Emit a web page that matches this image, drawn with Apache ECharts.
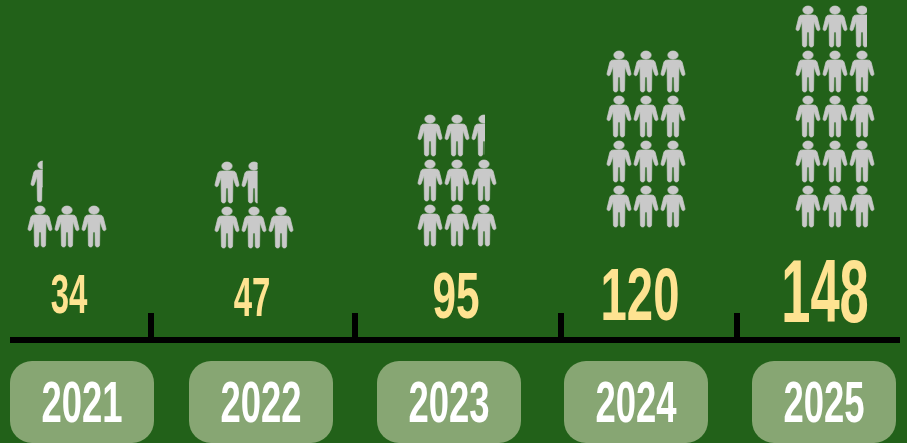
<!DOCTYPE html>
<html>
<head>
<meta charset="utf-8">
<style>
  html, body { margin: 0; padding: 0; background: #226119; }
  #chart { width: 907px; height: 443px; }
</style>
<script src="https://cdn.jsdelivr.net/npm/echarts@6/dist/echarts.min.js"></script>
</head>
<body>
<div id="chart"></div>
<script>
// ---- data ----
var years = ["2021", "2022", "2023", "2024", "2025"];
var values = [34, 47, 95, 120, 148];
// icons actually drawn per year (2023 shows 8.5, not 9.5, in the original)
var iconCounts = [3.4, 4.7, 8.5, 12, 14.8];
var iconsPerRow = 3;

// ---- layout (pixels, the original spacing is not even) ----
var iconCenterX = [67, 254, 457, 646, 835];
var iconBottomY = [247, 248, 246, 227, 227];
var partialShiftX = [3, 0, 0, 0, 0];
var numberX = [69, 252, 456, 640, 825];
var numberY = [298, 300.5, 300.5, 299, 297];
var numberSize = [55, 55, 65, 75, 89];
var numberScale = [0.6, 0.6, 0.65, 0.63, 0.59];
var pillX = [10, 189, 377, 564, 752];
var tickValues = [151, 355, 561, 737];

var AXIS_Y = 340;
var COL_GAP = 27, ROW_GAP = 45;
var ICON_W = 24, ICON_H = 41;
var FONT = '"Liberation Sans Narrow", "Liberation Sans", sans-serif';

var personPath =
  "M12 0C15 0 17.2 1.8 17.2 4.1C17.2 6.4 15 8.2 12 8.2C9 8.2 6.8 6.4 6.8 4.1C6.8 1.8 9 0 12 0Z" +
  "M7 9L17 9C20 9 20.8 10 21.4 12L24 22.5C24.4 24.8 21.5 25.5 20.8 23.6L18 15.5L17.6 39" +
  "C17.4 41.7 13.4 41.7 13.2 39L13 26L11 26L10.8 39C10.6 41.7 6.6 41.7 6.4 39L6 15.5" +
  "L3.2 23.6C2.5 25.5 -0.4 24.8 0 22.5L2.6 12C3.2 10 4 9 7 9Z";

var chart = echarts.init(document.getElementById("chart"), null, { renderer: "canvas" });

function renderIcons(params, api) {
  var i = api.value(0);
  var icons = iconCounts[i];
  var left = api.coord([iconCenterX[i], 0])[0] - COL_GAP - ICON_W / 2;
  var children = [];
  for (var n = 0; n < Math.ceil(icons); n++) {
    var col = n % iconsPerRow;
    var row = Math.floor(n / iconsPerRow);
    var part = Math.min(icons - n, 1);
    var x = left + col * COL_GAP + (part < 1 ? partialShiftX[i] : 0);
    var y = iconBottomY[i] - ICON_H - row * ROW_GAP;
    var item = {
      type: "path",
      shape: { pathData: personPath, x: x, y: y, width: ICON_W, height: ICON_H, layout: "cover" },
      style: { fill: "#c9c9c9", stroke: "#c9c9c9", lineWidth: 0.7 }
    };
    if (part < 1) {
      // cut the last icon from the left
      item.clipPath = {
        type: "rect",
        shape: { x: x - 1, y: y - 1, width: 6.5 + 13 * part + 1, height: ICON_H + 2 }
      };
    }
    children.push(item);
  }
  return { type: "group", children: children };
}

function renderNumber(params, api) {
  var i = api.value(0);
  return {
    type: "text",
    x: numberX[i],
    y: numberY[i],
    scaleX: numberScale[i],
    style: {
      text: String(api.value(1)),
      font: "bold " + numberSize[i] + "px " + FONT,
      fill: "#fee391",
      textAlign: "center",
      textVerticalAlign: "middle"
    }
  };
}

function renderPill(params, api) {
  var i = api.value(0);
  return {
    type: "group",
    children: [
      {
        type: "rect",
        shape: { x: pillX[i], y: 361, width: 144, height: 82, r: 22 },
        style: { fill: "#87a673" }
      },
      {
        type: "text",
        x: pillX[i] + 72,
        y: 406,
        scaleX: 0.64,
        style: {
          text: years[i],
          font: "bold 57px " + FONT,
          fill: "#ffffff",
          textAlign: "center",
          textVerticalAlign: "middle"
        }
      }
    ]
  };
}

var rows = years.map(function (y, i) { return [i, values[i]]; });

chart.setOption({
  backgroundColor: "#226119",
  animation: false,
  grid: { left: 10, right: 7, top: 0, bottom: 443 - AXIS_Y },
  xAxis: {
    type: "value",
    min: 10,
    max: 900,
    splitLine: { show: false },
    axisLine: { show: true, onZero: false, lineStyle: { color: "#000", width: 6, cap: "butt" } },
    axisTick: {
      show: true,
      inside: true,
      customValues: tickValues,
      length: 27,
      lineStyle: { color: "#000", width: 6 }
    },
    axisLabel: { show: false }
  },
  yAxis: { type: "value", min: 0, max: 100, show: false },
  series: [
    { type: "custom", data: rows, renderItem: renderIcons, silent: true, encode: { x: -1, y: -1 } },
    { type: "custom", data: rows, renderItem: renderNumber, silent: true, encode: { x: -1, y: -1 } },
    { type: "custom", data: rows, renderItem: renderPill, silent: true, encode: { x: -1, y: -1 } }
  ]
});
</script>
</body>
</html>
